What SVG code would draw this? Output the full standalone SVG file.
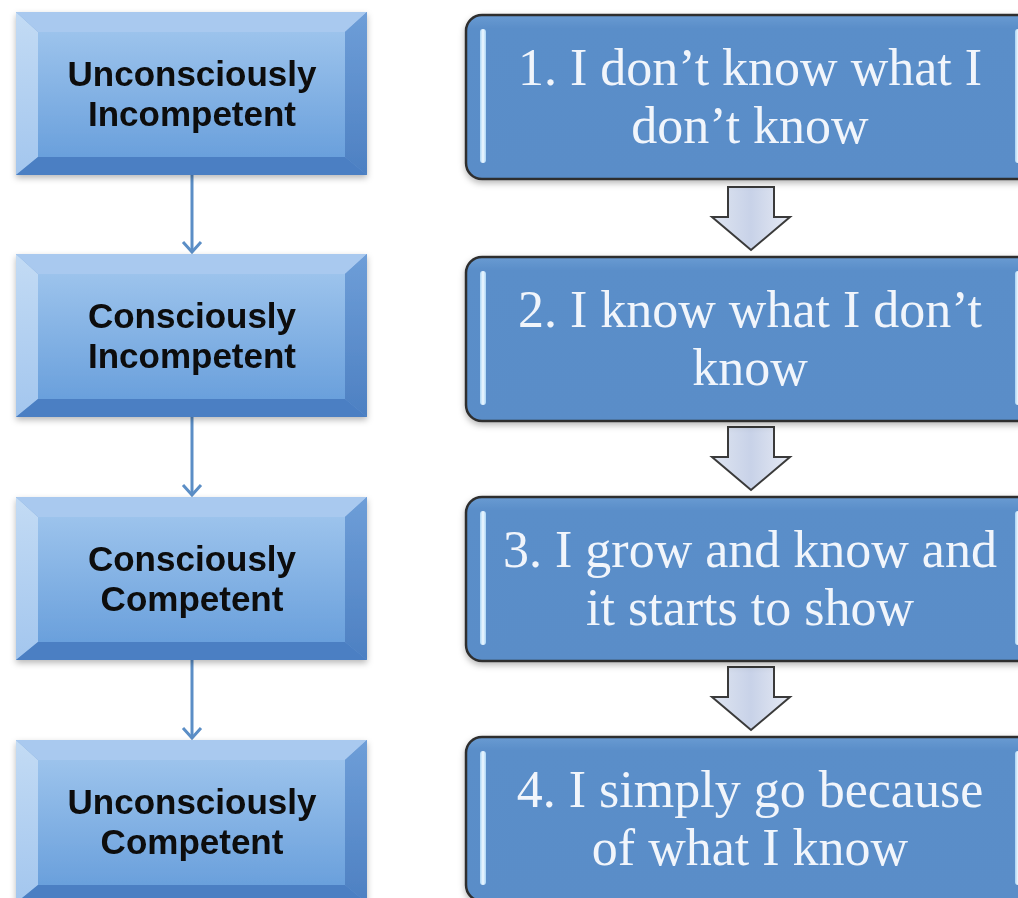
<svg xmlns="http://www.w3.org/2000/svg" width="1018" height="898" viewBox="0 0 1018 898">
<defs>
<linearGradient id="face" x1="0" y1="0" x2="0" y2="1"><stop offset="0" stop-color="#9cc3ec"/><stop offset="1" stop-color="#6aa0dc"/></linearGradient>
<linearGradient id="lbev" x1="0" y1="0" x2="0" y2="1"><stop offset="0" stop-color="#c3dbf4"/><stop offset="1" stop-color="#a3c6ee"/></linearGradient>
<linearGradient id="rbev" x1="0" y1="0" x2="0" y2="1"><stop offset="0" stop-color="#6e9ed8"/><stop offset="1" stop-color="#4d80c2"/></linearGradient>
<linearGradient id="rfill" x1="0" y1="0" x2="0" y2="1"><stop offset="0" stop-color="#6a9bd2"/><stop offset="0.08" stop-color="#5a8ec9"/><stop offset="1" stop-color="#5a8dc8"/></linearGradient>
<linearGradient id="arr" x1="0" y1="0" x2="1" y2="0"><stop offset="0" stop-color="#dfe5f1"/><stop offset="0.5" stop-color="#c8d2e8"/><stop offset="1" stop-color="#e6eaf4"/></linearGradient>
<linearGradient id="bar" x1="0" y1="0" x2="1" y2="0"><stop offset="0" stop-color="#a9d4f5"/><stop offset="0.5" stop-color="#eef8ff"/><stop offset="1" stop-color="#a9d4f5"/></linearGradient>
<filter id="sh" x="-5%" y="-5%" width="110%" height="120%"><feDropShadow dx="0" dy="3" stdDeviation="3" flood-color="#000" flood-opacity="0.28"/></filter>
<marker id="chev" viewBox="0 0 14 22" refX="12" refY="11" markerWidth="14" markerHeight="22" markerUnits="userSpaceOnUse" orient="auto">
<path d="M2 2 L12 11 L2 20" fill="none" stroke="#5b8ec6" stroke-width="3"/>
</marker>
<g id="bevel">
<rect x="0" y="0" width="351" height="163" fill="#6e9dd5"/>
<polygon points="0,0 351,0 329,20 22,20" fill="#a9c9ef"/>
<polygon points="0,0 22,20 22,145 0,163" fill="url(#lbev)"/>
<polygon points="351,0 351,163 329,145 329,20" fill="url(#rbev)"/>
<polygon points="0,163 22,145 329,145 351,163" fill="#4b7fc3"/>
<rect x="22" y="20" width="307" height="125" fill="url(#face)"/>
</g>
<g id="rbox">
<rect x="0" y="0" width="570" height="164" rx="16" ry="16" fill="url(#rfill)" stroke="#2e2e2e" stroke-width="2.5"/>
<rect x="14" y="14" width="6" height="134" rx="3" fill="url(#bar)"/>
<rect x="549" y="14" width="6" height="134" rx="3" fill="url(#bar)"/>
</g>
<path id="blk" d="M-23 0 H23 V30 H39 L0 63 L-39 30 H-23 Z"/>
</defs>
<style>
.lt{font-family:"Liberation Sans","Open Sans",Arial,sans-serif;font-weight:bold;font-size:35px;fill:#0b0b0b;text-anchor:middle}
.rt{font-family:"Liberation Serif","Times New Roman",serif;font-size:52px;fill:#f1f5fb;text-anchor:middle}
.ln{stroke:#5b8ec6;stroke-width:3;fill:none}
.ba{fill:url(#arr);stroke:#3a3a3a;stroke-width:2;stroke-linejoin:miter}
</style>
<rect width="1018" height="898" fill="#ffffff"/>

<g id="connectors">
<line class="ln" x1="192" y1="175" x2="192" y2="252" marker-end="url(#chev)"/>
<line class="ln" x1="192" y1="417" x2="192" y2="495" marker-end="url(#chev)"/>
<line class="ln" x1="192" y1="660" x2="192" y2="738" marker-end="url(#chev)"/>
<use href="#blk" class="ba" transform="translate(751,187)"/>
<use href="#blk" class="ba" transform="translate(751,427)"/>
<use href="#blk" class="ba" transform="translate(751,667)"/>
</g>

<g id="left1" filter="url(#sh)"><use href="#bevel" transform="translate(16,12)"/>
<text class="lt" x="192" y="86">Unconsciously</text><text class="lt" x="192" y="126">Incompetent</text></g>
<g id="left2" filter="url(#sh)"><use href="#bevel" transform="translate(16,254)"/>
<text class="lt" x="192" y="328">Consciously</text><text class="lt" x="192" y="368">Incompetent</text></g>
<g id="left3" filter="url(#sh)"><use href="#bevel" transform="translate(16,497)"/>
<text class="lt" x="192" y="571">Consciously</text><text class="lt" x="192" y="611">Competent</text></g>
<g id="left4" filter="url(#sh)"><use href="#bevel" transform="translate(16,740)"/>
<text class="lt" x="192" y="814">Unconsciously</text><text class="lt" x="192" y="854">Competent</text></g>

<g id="right1" filter="url(#sh)"><use href="#rbox" transform="translate(466,15)"/>
<text class="rt" x="750" y="85">1. I don’t know what I</text><text class="rt" x="750" y="143">don’t know</text></g>
<g id="right2" filter="url(#sh)"><use href="#rbox" transform="translate(466,257)"/>
<text class="rt" x="750" y="327">2. I know what I don’t</text><text class="rt" x="750" y="385">know</text></g>
<g id="right3" filter="url(#sh)"><use href="#rbox" transform="translate(466,497)"/>
<text class="rt" x="750" y="567">3. I grow and know and</text><text class="rt" x="750" y="625">it starts to show</text></g>
<g id="right4" filter="url(#sh)"><use href="#rbox" transform="translate(466,737)"/>
<text class="rt" x="750" y="807">4. I simply go because</text><text class="rt" x="750" y="865">of what I know</text></g>
</svg>
